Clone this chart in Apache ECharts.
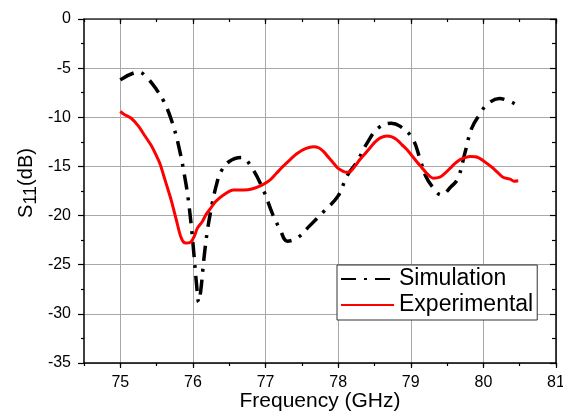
<!DOCTYPE html>
<html>
<head>
<meta charset="utf-8">
<script src="https://cdn.jsdelivr.net/npm/echarts@6/dist/echarts.min.js"></script>
<style>html,body{margin:0;padding:0;background:#fff}#c{width:563px;height:412px}</style>
</head>
<body>
<div id="c"></div>
<script>
var xTicks = [75, 76, 77, 78, 79, 80, 81];
var freqSim = [75.0, 75.25, 75.37, 75.5, 75.6, 75.7, 75.8, 75.9, 75.95, 76.0, 76.05, 76.08, 76.11, 76.15, 76.2, 76.27, 76.33, 76.38, 76.5, 76.67, 76.8, 76.97, 77.1, 77.2, 77.3, 77.45, 77.6, 77.8, 78.0, 78.12, 78.26, 78.4, 78.55, 78.73, 78.85, 79.02, 79.13, 79.2, 79.3, 79.42, 79.55, 79.65, 79.75, 79.84, 79.95, 80.05, 80.22, 80.45];
var s11Sim = [-6.2, -5.4, -6.0, -7.2, -8.4, -10.2, -12.8, -16.6, -19.2, -22.8, -27.0, -28.8, -27.5, -24.5, -21.5, -18.6, -16.7, -15.6, -14.5, -14.1, -15.0, -17.4, -19.9, -21.4, -22.6, -22.2, -21.1, -19.6, -18.0, -16.0, -14.5, -12.6, -11.1, -10.6, -10.9, -12.1, -14.3, -15.9, -17.1, -17.9, -17.1, -16.2, -13.5, -11.1, -9.7, -8.7, -8.1, -8.7];
var freqExp = [75.0, 75.05, 75.15, 75.25, 75.33, 75.42, 75.49, 75.55, 75.6, 75.65, 75.7, 75.77, 75.84, 75.9, 75.97, 76.02, 76.06, 76.13, 76.18, 76.24, 76.31, 76.42, 76.56, 76.7, 76.81, 76.95, 77.06, 77.15, 77.24, 77.34, 77.43, 77.55, 77.66, 77.73, 77.8, 77.87, 77.94, 78.0, 78.07, 78.12, 78.17, 78.23, 78.3, 78.37, 78.44, 78.51, 78.58, 78.67, 78.74, 78.81, 78.88, 78.95, 79.08, 79.15, 79.22, 79.31, 79.4, 79.47, 79.54, 79.61, 79.68, 79.75, 79.82, 79.93, 80.05, 80.12, 80.18, 80.27, 80.37, 80.42, 80.48];
var s11Exp = [-9.4, -9.7, -10.1, -10.9, -11.8, -12.8, -13.8, -14.8, -16.0, -17.2, -18.4, -20.4, -22.3, -22.8, -22.7, -22.1, -21.3, -20.6, -19.9, -19.3, -18.6, -17.9, -17.4, -17.4, -17.3, -16.9, -16.4, -15.7, -15.0, -14.3, -13.7, -13.2, -13.0, -13.1, -13.5, -14.1, -14.7, -15.2, -15.5, -15.6, -15.5, -15.0, -14.3, -13.7, -13.1, -12.5, -12.1, -11.9, -12.0, -12.3, -12.8, -13.3, -14.5, -15.1, -15.7, -16.2, -16.1, -15.7, -15.2, -14.7, -14.3, -14.1, -14.0, -14.1, -14.7, -15.1, -15.5, -16.1, -16.3, -16.5, -16.45];

function zip(a, b) { return a.map(function (v, i) { return [v, b[i]]; }); }

var FONT = '"Liberation Sans", Arial, sans-serif';
var chart = echarts.init(document.getElementById('c'), null, {renderer: 'canvas'});
var axisLineStyle = {color: '#000', width: 1.5};
var option = {
  animation: false,
  backgroundColor: '#fff',
  grid: {left: 84, top: 19, right: 7, bottom: 49, containLabel: false, outerBoundsMode: 'none'},
  xAxis: [
    {
      type: 'value', position: 'bottom', min: 74.5, max: 81,
      axisLine: {show: true, onZero: false, lineStyle: axisLineStyle},
      axisTick: {show: true, customValues: xTicks, length: 5, inside: false, lineStyle: {color: '#000', width: 1.2}},
      axisLabel: {show: true, customValues: xTicks, fontFamily: FONT, fontSize: 16, color: '#000', margin: 12},
      splitLine: {show: true, lineStyle: {color: '#a8a8a8', width: 1}},
      name: 'Frequency (GHz)', nameLocation: 'middle', nameGap: 28, nameMoveOverlap: false,
      nameTextStyle: {fontFamily: FONT, fontSize: 21, color: '#000'}
    },
    {
      type: 'value', position: 'bottom', min: 74.5, max: 81, interval: 0.5,
      axisLine: {show: false, onZero: false},
      axisTick: {show: true, length: 3, inside: false, lineStyle: {color: '#000', width: 1.2}},
      axisLabel: {show: false}, splitLine: {show: false}
    },
    {
      type: 'value', position: 'top', min: 74.5, max: 81,
      axisLine: {show: true, onZero: false, lineStyle: {color: '#333', width: 1.5}},
      axisTick: {show: true, customValues: xTicks, length: 5, inside: true, lineStyle: {color: '#000', width: 1.2}},
      axisLabel: {show: false}, splitLine: {show: false}
    },
    {
      type: 'value', position: 'top', min: 74.5, max: 81, interval: 0.5,
      axisLine: {show: false, onZero: false},
      axisTick: {show: true, length: 3, inside: true, lineStyle: {color: '#000', width: 1.2}},
      axisLabel: {show: false}, splitLine: {show: false}
    }
  ],
  yAxis: [
    {
      type: 'value', position: 'left', min: -35, max: 0, interval: 5,
      axisLine: {show: true, onZero: false, lineStyle: axisLineStyle},
      axisTick: {show: true, length: 6, inside: false, lineStyle: {color: '#000', width: 1.2}},
      minorTick: {show: true, splitNumber: 2, length: 3, lineStyle: {color: '#000', width: 1.2}},
      axisLabel: {fontFamily: FONT, fontSize: 16, color: '#000', margin: 13},
      splitLine: {show: true, lineStyle: {color: '#a8a8a8', width: 1}},
      name: '{a|S}{b|11}{a|(dB)}', nameLocation: 'middle', nameGap: 48, nameRotate: 90, nameMoveOverlap: false,
      nameTextStyle: {
        fontFamily: FONT, fontSize: 20, color: '#000', padding: [0, 0, 0, 16],
        rich: {
          a: {fontFamily: FONT, fontSize: 20, color: '#000', verticalAlign: 'bottom', lineHeight: 24},
          b: {fontFamily: FONT, fontSize: 18, color: '#000', verticalAlign: 'bottom', lineHeight: 20, padding: [0, 0, -4, 0]}
        }
      }
    },
    {
      type: 'value', position: 'right', min: -35, max: 0, interval: 5,
      axisLine: {show: true, onZero: false, lineStyle: axisLineStyle},
      axisTick: {show: true, length: 6, inside: true, lineStyle: {color: '#000', width: 1.2}},
      minorTick: {show: true, splitNumber: 2, length: 4, lineStyle: {color: '#000', width: 1.2}},
      axisLabel: {show: false}, splitLine: {show: false}
    }
  ],
  legend: {
    orient: 'vertical', left: 337, top: 265,
    backgroundColor: '#fff', borderColor: '#333', borderWidth: 1,
    padding: [1, 4, 2, 3], itemGap: 0, itemWidth: 53, itemHeight: 14,
    itemStyle: {opacity: 0},
    textStyle: {fontFamily: FONT, fontSize: 23, color: '#000', lineHeight: 26},
    data: ['Simulation', 'Experimental']
  },
  series: [
    {
      name: 'Simulation', type: 'line', xAxisIndex: 0, yAxisIndex: 0,
      data: zip(freqSim, s11Sim), smooth: 0.4, showSymbol: false, symbol: 'none',
      lineStyle: {color: '#000', width: 3.5, type: [15, 8, 3, 8], cap: 'butt'},
      itemStyle: {color: '#000'}, z: 3
    },
    {
      name: 'Experimental', type: 'line', xAxisIndex: 0, yAxisIndex: 0,
      data: zip(freqExp, s11Exp), smooth: 0.3, showSymbol: false, symbol: 'none',
      lineStyle: {color: '#ff0000', width: 3},
      itemStyle: {color: '#ff0000'}, z: 4
    }
  ]
};
chart.setOption(option);
</script>
</body>
</html>
